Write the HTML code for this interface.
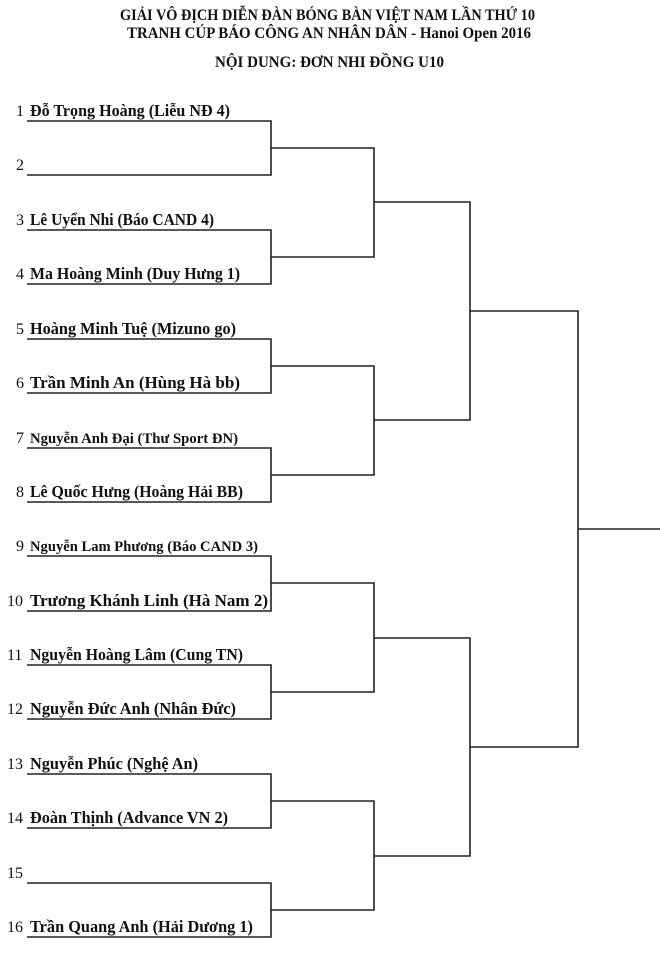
<!DOCTYPE html>
<html><head><meta charset="utf-8"><style>
html,body{margin:0;padding:0;background:#fff;}
svg{display:block;}
text{font-family:"Liberation Serif","DejaVu Serif",serif;fill:#111;}
.t{font-weight:bold;font-size:16px;}
.n{font-weight:bold;font-size:17px;}
.num{font-size:16px;}
</style></head><body>
<svg width="660" height="963" viewBox="0 0 660 963" xmlns="http://www.w3.org/2000/svg">
<text class="t" x="120" y="20" textLength="415" lengthAdjust="spacingAndGlyphs">GIẢI VÔ ĐỊCH DIỄN ĐÀN BÓNG BÀN VIỆT NAM LẦN THỨ 10</text>
<text class="t" x="127" y="38" textLength="404" lengthAdjust="spacingAndGlyphs">TRANH CÚP BÁO CÔNG AN NHÂN DÂN - Hanoi Open 2016</text>
<text class="t" x="215" y="67" textLength="229" lengthAdjust="spacingAndGlyphs">NỘI DUNG: ĐƠN NHI ĐỒNG U10</text>

<g fill="none" stroke="#222" stroke-width="1.6">
<path d="M27 121H271V175H27"/>
<path d="M27 230H271V284H27"/>
<path d="M27 339H271V393H27"/>
<path d="M27 448H271V502H27"/>
<path d="M27 556H271V611H27"/>
<path d="M27 665H271V719H27"/>
<path d="M27 774H271V828H27"/>
<path d="M27 883H271V937H27"/>
<path d="M271 148H374V257H271"/>
<path d="M271 366H374V475H271"/>
<path d="M271 583H374V692H271"/>
<path d="M271 801H374V910H271"/>
<path d="M374 202H470V420H374"/>
<path d="M374 638H470V856H374"/>
<path d="M470 311H578V747H470"/>
<path d="M578 529H660"/>
</g>

<g>
<text class="num" x="16" y="116">1</text><text class="n" x="30" y="116" textLength="200" lengthAdjust="spacingAndGlyphs">Đỗ Trọng Hoàng (Liễu NĐ 4)</text>
<text class="num" x="16" y="170">2</text>
<text class="num" x="16" y="225">3</text><text class="n" x="30" y="225" textLength="184" lengthAdjust="spacingAndGlyphs">Lê Uyển Nhi (Báo CAND 4)</text>
<text class="num" x="16" y="279">4</text><text class="n" x="30" y="279" textLength="210" lengthAdjust="spacingAndGlyphs">Ma Hoàng Minh (Duy Hưng 1)</text>
<text class="num" x="16" y="334">5</text><text class="n" x="30" y="334" textLength="206" lengthAdjust="spacingAndGlyphs">Hoàng Minh Tuệ (Mizuno go)</text>
<text class="num" x="16" y="388">6</text><text class="n" x="30" y="388" textLength="210" lengthAdjust="spacingAndGlyphs">Trần Minh An (Hùng Hà bb)</text>
<text class="num" x="16" y="443">7</text><text class="n" x="30" y="443" style="font-size:15px" textLength="208" lengthAdjust="spacingAndGlyphs">Nguyễn Anh Đại (Thư Sport ĐN)</text>
<text class="num" x="16" y="497">8</text><text class="n" x="30" y="497" textLength="213" lengthAdjust="spacingAndGlyphs">Lê Quốc Hưng (Hoàng Hải BB)</text>
<text class="num" x="16" y="551">9</text><text class="n" x="30" y="551" style="font-size:15px" textLength="228" lengthAdjust="spacingAndGlyphs">Nguyễn Lam Phương (Báo CAND 3)</text>
<text class="num" x="7" y="606">10</text><text class="n" x="30" y="606" textLength="238" lengthAdjust="spacingAndGlyphs">Trương Khánh Linh (Hà Nam 2)</text>
<text class="num" x="7" y="660">11</text><text class="n" x="30" y="660" textLength="213" lengthAdjust="spacingAndGlyphs">Nguyễn Hoàng Lâm (Cung TN)</text>
<text class="num" x="7" y="714">12</text><text class="n" x="30" y="714" textLength="206" lengthAdjust="spacingAndGlyphs">Nguyễn Đức Anh (Nhân Đức)</text>
<text class="num" x="7" y="769">13</text><text class="n" x="30" y="769" textLength="168" lengthAdjust="spacingAndGlyphs">Nguyễn Phúc (Nghệ An)</text>
<text class="num" x="7" y="823">14</text><text class="n" x="30" y="823" textLength="198" lengthAdjust="spacingAndGlyphs">Đoàn Thịnh (Advance VN 2)</text>
<text class="num" x="7" y="878">15</text>
<text class="num" x="7" y="932">16</text><text class="n" x="30" y="932" textLength="223" lengthAdjust="spacingAndGlyphs">Trần Quang Anh (Hải Dương 1)</text>
</g>
</svg>
</body></html>
